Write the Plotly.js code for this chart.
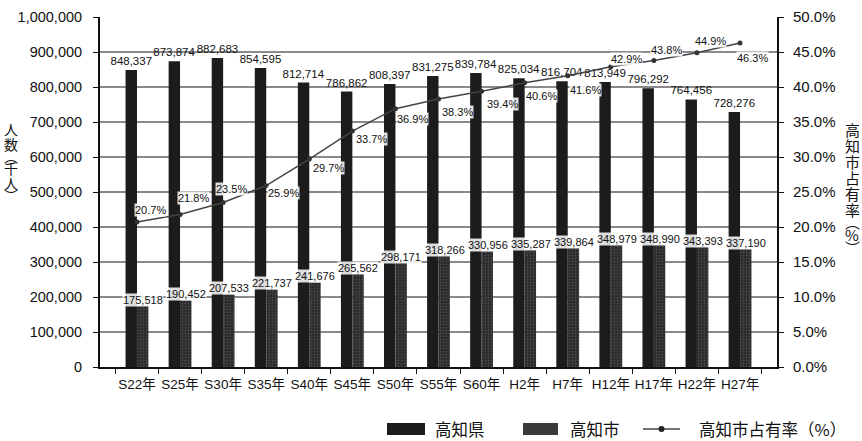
<!DOCTYPE html>
<html><head><meta charset="utf-8">
<script src="https://cdn.plot.ly/plotly-3.0.1.min.js"></script>
<style>html,body{margin:0;padding:0;background:#fff}#chart{width:862px;height:441px}</style>
</head><body><div id="chart"></div>
<script>
const categories = ['S22年','S25年','S30年','S35年','S40年','S45年','S50年','S55年','S60年','H2年','H7年','H12年','H17年','H22年','H27年'];
const prefecture = [848337,873874,882683,854595,812714,786862,808397,831275,839784,825034,816704,813949,796292,764456,728276];
const city = [175518,190452,207533,221737,241676,265562,298171,318266,330956,335287,339864,348979,348990,343393,337190];
const share = [20.7,21.8,23.5,25.9,29.7,33.7,36.9,38.3,39.4,40.6,41.6,42.9,43.8,44.9,46.3];
const seriesNames = ['高知県','高知市','高知市占有率（%）'];
const leftTitle = ['人','数','︵','千','人','︶'];
const rightTitle = ['高','知','市','占','有','率','︵','%','︶'];

// label offsets in pixels (style only)
const shareDx = [14,13,8,17,19,19,17,19,21,17,18,16,13,14,12];
const shareDy = [12,16,14,-7,-9,-8,-10,-13,-13,-13,-14,8,10,12,-15];

const NUM = 'Liberation Sans, Arial, Noto Sans CJK JP, sans-serif';
const CJK = 'Noto Sans CJK JP, sans-serif';
const fmt = v => v.toLocaleString('en-US');

const L = 100, R = 777, T = 17, B = 367;
const px2x = p => (p - L) / (R - L);
const px2y = p => (B - p) / (B - T);

const PREF_COLOR = '#1c1c1c', CITY_COLOR = '#2a2a2a', LINE_COLOR = '#444';

const traces = [
  {type:'bar', name:seriesNames[0], x:categories, y:prefecture, showlegend:false,
   marker:{color:PREF_COLOR}, text:prefecture.map(fmt), textposition:'outside',
   textfont:{family:NUM, size:11.5, color:'#111'}, constraintext:'none', cliponaxis:false},
  {type:'bar', name:seriesNames[1], x:categories, y:city, showlegend:false,
   marker:{color:CITY_COLOR, pattern:{shape:'.', bgcolor:CITY_COLOR, fgcolor:'#4a4a4a', size:3, solidity:0.3}},
   cliponaxis:false},
  {type:'scatter', mode:'lines+markers', name:seriesNames[2], x:categories, y:share, yaxis:'y2', showlegend:false,
   line:{color:LINE_COLOR, width:1.5}, marker:{color:'#333', size:5}, cliponaxis:false}
];

const annotations = [];
categories.forEach((c,i)=>{
  annotations.push({x:c, y:city[i], xref:'x', yref:'y', text:fmt(city[i]), showarrow:false,
    xshift:6, yanchor:'bottom', yshift:-1, bgcolor:'rgba(255,255,255,0.85)', borderpad:0,
    font:{family:NUM, size:11, color:'#111'}});
  annotations.push({x:c, y:share[i], xref:'x', yref:'y2', text:share[i].toFixed(1)+'%', showarrow:false,
    xshift:shareDx[i], yshift:shareDy[i], bgcolor:'rgba(255,255,255,0.85)', borderpad:0,
    font:{family:NUM, size:11, color:'#111'}});
});
// vertical (stacked) axis titles, one glyph per annotation
function vertical(chars, xPx, yStartPx, size, step, halfStep){
  let y = yStartPx;
  chars.forEach(ch=>{
    const half = (ch==='︵'||ch==='︶');
    const h = half ? halfStep : step;
    annotations.push({xref:'paper', yref:'paper', x:px2x(xPx), y:px2y(y + h/2), text:ch, showarrow:false,
      xanchor:'center', yanchor:'middle', font:{family:CJK, size:size, color:'#111'}});
    y += h;
  });
}
vertical(leftTitle, 11, 121, 14, 15, 9);
vertical(rightTitle, 852, 121, 15, 16, 10);

// custom legend (wide swatches as in the reference)
const shapes = [];
const legY = 429;
const legend = [
  {kind:'bar', color:PREF_COLOR, x0:387, x1:425, tx:433, name:seriesNames[0]},
  {kind:'bar', color:'#3a3a3a', x0:523, x1:558, tx:568, name:seriesNames[1]},
  {kind:'line', color:LINE_COLOR, x0:643, x1:680, tx:697, name:seriesNames[2]}
];
legend.forEach(it=>{
  if(it.kind==='bar'){
    shapes.push({type:'rect', xref:'paper', yref:'paper', x0:px2x(it.x0), x1:px2x(it.x1), y0:px2y(legY+6), y1:px2y(legY-6),
      fillcolor:it.color, line:{width:0}, layer:'above'});
  } else {
    shapes.push({type:'line', xref:'paper', yref:'paper', x0:px2x(it.x0), x1:px2x(it.x1), y0:px2y(legY), y1:px2y(legY),
      line:{color:it.color, width:1.5}, layer:'above'});
    const cx = (it.x0+it.x1)/2;
    shapes.push({type:'circle', xref:'paper', yref:'paper', x0:px2x(cx-3), x1:px2x(cx+3), y0:px2y(legY+3), y1:px2y(legY-3),
      fillcolor:'#222', line:{width:0}, layer:'above'});
  }
  annotations.push({xref:'paper', yref:'paper', x:px2x(it.tx), y:px2y(legY), xanchor:'left', yanchor:'middle',
    text:it.name, showarrow:false, font:{family:CJK, size:16.5, color:'#111'}});
});

const layout = {
  width:862, height:441, paper_bgcolor:'#fff', plot_bgcolor:'#fff',
  margin:{l:L, r:862-R, t:T, b:441-B},
  barmode:'group', bargap:0.47, bargroupgap:0,
  showlegend:false,
  xaxis:{type:'category', showgrid:false, showline:true, linecolor:'#111', linewidth:2,
    ticks:'outside', tickson:'boundaries', ticklen:5, tickcolor:'#111', tickangle:0, ticklabelstandoff:4,
    tickfont:{family:NUM, size:13.5, color:'#111'}},
  yaxis:{range:[0,1000000], dtick:100000, tickformat:',d', showgrid:true, gridcolor:'#8a8a8a', gridwidth:1.5,
    showline:true, linecolor:'#111', linewidth:2, ticks:'outside', ticklen:5, tickcolor:'#111',
    tickfont:{family:NUM, size:14.5, color:'#111'}, ticklabelstandoff:8, zeroline:false},
  yaxis2:{range:[0,50], dtick:5, tickformat:'.1f', ticksuffix:'%', overlaying:'y', side:'right', showgrid:false,
    showline:true, linecolor:'#111', linewidth:2, ticks:'outside', ticklen:5, tickcolor:'#111',
    tickfont:{family:NUM, size:15, color:'#111'}, ticklabelstandoff:6, zeroline:false},
  shapes:shapes,
  annotations:annotations
};
Plotly.newPlot('chart', traces, layout, {staticPlot:true, displayModeBar:false});
</script></body></html>
